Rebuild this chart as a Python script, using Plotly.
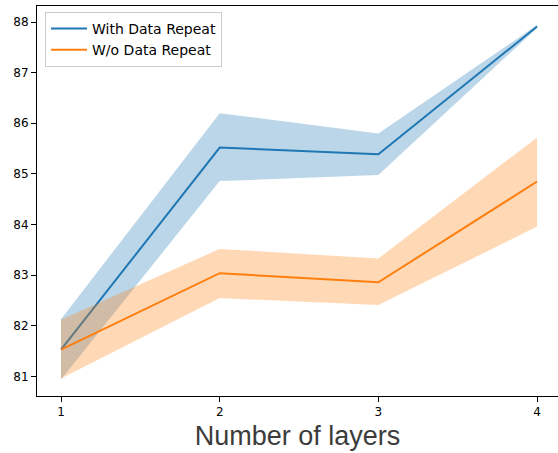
import plotly.graph_objects as go

layers = [1, 2, 3, 4]
with_mean = [81.53, 85.52, 85.39, 87.91]
with_upper = [82.13, 86.20, 85.80, 87.94]
with_lower = [80.94, 84.86, 84.98, 87.88]
wo_mean = [81.53, 83.04, 82.86, 84.85]
wo_upper = [82.12, 83.52, 83.33, 85.72]
wo_lower = [80.96, 82.55, 82.41, 83.96]

BLUE = "#1f77b4"
ORANGE = "#ff7f0e"

fig = go.Figure()

def band(x, lo, hi, color):
    fig.add_trace(go.Scatter(x=x, y=hi, mode="lines", line=dict(width=0),
                             showlegend=False, hoverinfo="skip"))
    fig.add_trace(go.Scatter(x=x, y=lo, mode="lines", line=dict(width=0),
                             fill="tonexty", fillcolor=color,
                             showlegend=False, hoverinfo="skip"))

band(layers, with_lower, with_upper, "rgba(31,119,180,0.3)")
fig.add_trace(go.Scatter(x=layers, y=with_mean, mode="lines", name="With Data Repeat",
                         line=dict(color=BLUE, width=2)))
band(layers, wo_lower, wo_upper, "rgba(255,127,14,0.3)")
fig.add_trace(go.Scatter(x=layers, y=wo_mean, mode="lines", name="W/o Data Repeat",
                         line=dict(color=ORANGE, width=2)))

fig.update_layout(
    width=558, height=453,
    margin=dict(l=37, r=0, t=6, b=57),
    paper_bgcolor="white", plot_bgcolor="white",
    font=dict(family="DejaVu Sans", color="black", size=12),
    legend=dict(x=0.0154, y=0.985, xanchor="left", yanchor="top",
                traceorder="normal",
                bgcolor="rgba(255,255,255,0.8)", bordercolor="#cccccc", borderwidth=1,
                font=dict(size=14, family="DejaVu Sans"),
                tracegroupgap=0, itemwidth=36),
    xaxis=dict(range=[0.8487, 4.132], tickvals=[1, 2, 3, 4], ticktext=["1", "2", "3", "4"],
               automargin=False,
               showgrid=False, zeroline=False, showline=True, linecolor="black", linewidth=1,
               mirror=True, ticks="outside", ticklen=5, tickcolor="black",
               tickfont=dict(size=12),
               title=dict(text="Number of layers", standoff=7,
                          font=dict(family="Liberation Sans", size=27, color="#3c3c3c"))),
    yaxis=dict(range=[80.615, 88.316], tickvals=[81, 82, 83, 84, 85, 86, 87, 88],
               automargin=False,
               showgrid=False, zeroline=False, showline=True, linecolor="black", linewidth=1,
               ticks="outside", ticklen=5, tickcolor="black", tickfont=dict(size=12)),
)

fig.write_html("out.html", config={"displayModeBar": False},
               post_script="document.body.style.margin='0';document.body.style.overflow='hidden';")
